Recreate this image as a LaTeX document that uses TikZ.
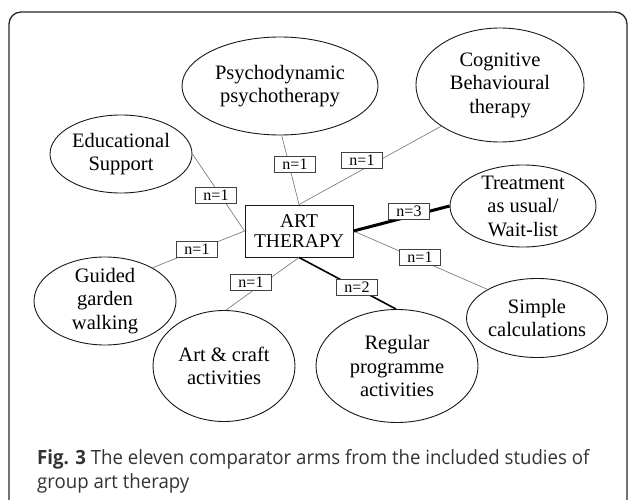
\documentclass[tikz,border=0pt]{standalone}
\usepackage{fontspec}
\setmainfont{Liberation Serif}
\newfontfamily\capfont[FakeStretch=0.95]{Open Sans}
\usetikzlibrary{shapes.geometric}
\begin{document}
\begin{tikzpicture}[x=1pt,y=-1pt,
  arm/.style={ellipse,draw=black!90,line width=0.9pt,inner xsep=-4pt,inner ysep=-6pt,align=center,font=\fontsize{20.5}{23.5}\selectfont},
  hub/.style={rectangle,draw=black!90,line width=0.9pt,minimum width=108pt,minimum height=52pt,inner sep=0pt,align=center,font=\fontsize{19.5}{20.5}\selectfont},
  cnt/.style={rectangle,draw=black!75,line width=0.8pt,fill=white,minimum width=41pt,minimum height=16pt,inner sep=0pt,font=\fontsize{16}{16}\selectfont},
  armline/.style={draw=black!50,line width=0.7pt},
  heavytwo/.style={draw=black,line width=1.6pt},
  heavythree/.style={draw=black,line width=3pt},
  captext/.style={anchor=base west,inner sep=0pt,text=black!80,font=\capfont\fontsize{19.6}{23}\selectfont}]
\useasboundingbox (0,0) rectangle (629,500);
\draw[line width=1.3pt, rounded corners=12pt, black!85] (9,12) rectangle (627,512);

\node[hub] (box) at (299,231) {ART\\THERAPY};
\node[arm,minimum width=196pt,minimum height=98pt] (psy) at (280,86) {Psychodynamic\\psychotherapy};
\node[arm,minimum width=168pt,minimum height=114pt] (cog) at (500,85) {Cognitive\\Behavioural\\therapy};
\node[arm,minimum width=142pt,minimum height=78pt] (edu) at (121,154) {Educational\\Support};
\node[arm,minimum width=146pt,minimum height=82pt] (trt) at (523,206) {Treatment\\as usual/\\Wait-list};
\node[arm,minimum width=142pt,minimum height=88pt] (gui) at (105,301) {Guided\\garden\\walking};
\node[arm,minimum width=142pt,minimum height=111pt] (art) at (224,366) {Art \& craft\\activities};
\node[arm,minimum width=162pt,minimum height=113pt] (reg) at (397,366) {Regular\\programme\\activities};
\node[arm,minimum width=141pt,minimum height=79pt] (sim) at (537,318) {Simple\\calculations};

\draw[armline] (box.north) -- (psy.-88);
\draw[armline] (box.north) -- (cog.215);
\draw[armline] (box.west) -- (edu.east);
\draw[armline] (box.west) -- (gui.35);
\draw[armline] (box.south) -- (art.88);
\draw[heavytwo] (box.south) -- (reg.91);
\draw[armline] (box.east) -- (sim.150);
\draw[heavythree] (box.east) -- (trt.west);

\node[cnt] (npsy) at (295,164) {n=1};
\node[cnt] (ncog) at (362,160) {n=1};
\node[cnt] (nedu) at (216,195) {n=1};
\node[cnt] (ntrt) at (409,211) {n=3};
\node[cnt] (ngui) at (197,249) {n=1};
\node[cnt] (nsim) at (420,257) {n=1};
\node[cnt] (nart) at (251,282) {n=1};
\node[cnt] (nreg) at (357,287) {n=2};

\node[captext] (cap1) at (37,464) {\textbf{Fig. 3} The eleven comparator arms from the included studies of};
\node[captext] (cap2) at (37,488) {group art therapy};
\end{tikzpicture}
\end{document}
